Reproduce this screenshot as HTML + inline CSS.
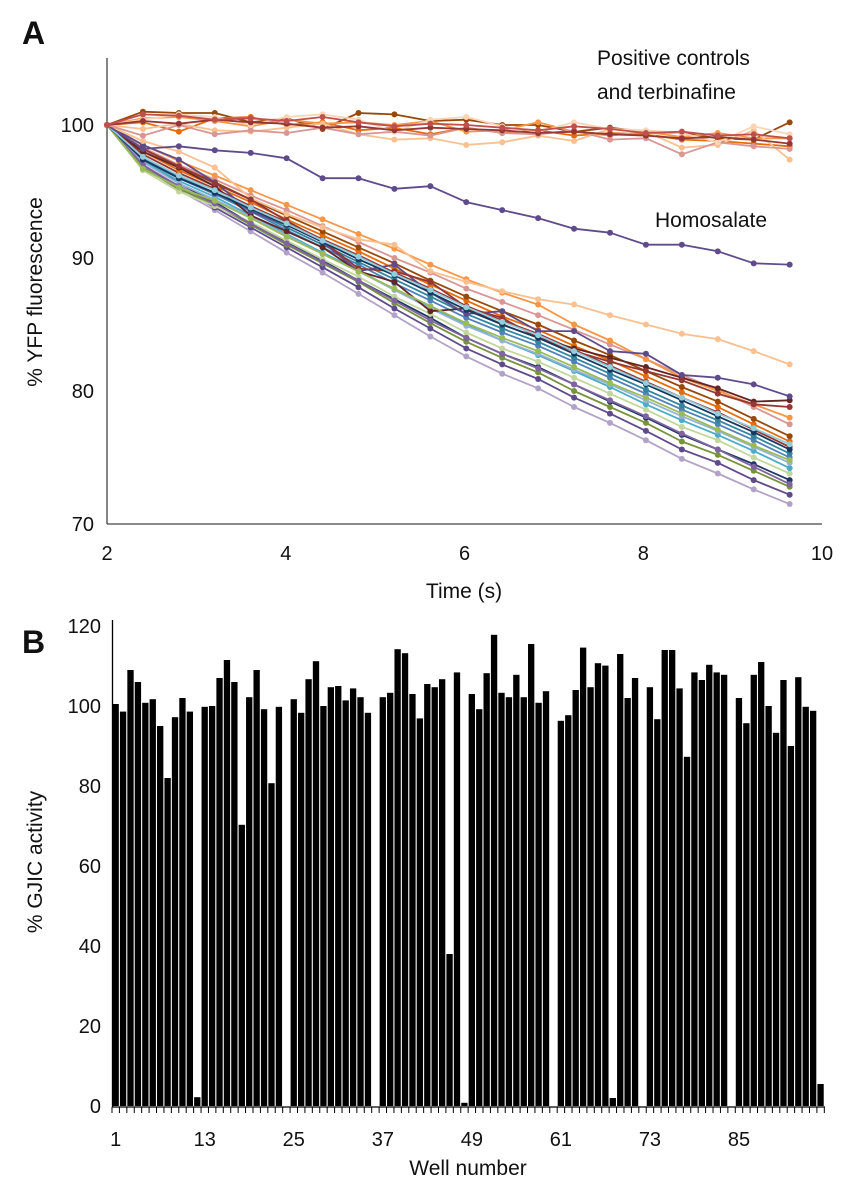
<!DOCTYPE html>
<html><head><meta charset="utf-8">
<style>
html,body{margin:0;padding:0;background:#fff;}
svg{display:block;font-family:"Liberation Sans",sans-serif;}
</style></head>
<body>
<svg id="fig" width="848" height="1200" viewBox="0 0 848 1200" xmlns="http://www.w3.org/2000/svg">
<text x="22" y="44" font-size="32" font-weight="bold" fill="#111">A</text>
<text x="22" y="653" font-size="32" font-weight="bold" fill="#111">B</text>
<g id="chartA"></g>
<g id="chartB"></g>
</svg>
<script>
// ---------- Panel A data ----------
const times = [2,2.402,2.804,3.206,3.608,4.01,4.412,4.814,5.216,5.618,6.02,6.422,6.824,7.226,7.628,8.03,8.432,8.834,9.236,9.638];
const aTicksX = [2,4,6,8,10];
const aTicksY = [70,80,90,100];
const flatColors = ["#984807","#e46c0a","#f79646","#fac090","#d99694","#fcd5b5","#953735","#c0504d"];
const flat1 = [100,101.0,100.9,100.9,100.2,100.5,99.7,100.9,100.8,100.3,100.4,100.0,100.0,99.5,99.8,99.5,99.4,99.0,98.9,100.2];
const flat2 = [100,100.2,99.5,100.5,100.6,100.0,100.2,99.6,99.8,99.3,99.8,99.4,99.6,99.2,99.4,99.3,98.9,98.8,98.6,98.4];
const flat3 = [100,100.5,100.6,100.3,99.9,100.4,100.1,100.2,100.0,100.3,99.5,99.6,100.2,99.5,99.2,99.5,99.1,99.4,99.0,99.0];
const flat4 = [100,99.7,100.1,99.6,99.5,99.8,100.1,99.3,98.9,99.0,98.5,98.7,99.2,98.8,99.7,99.5,98.3,98.5,99.6,97.4];
const flat5 = [100,99.2,100.0,99.3,99.6,99.4,99.8,99.3,99.5,99.2,99.8,99.4,99.3,99.6,98.9,99.0,97.8,98.7,98.4,98.2];
const flat6 = [100,100.4,100.8,100.6,100.0,100.6,100.8,100.4,99.5,100.4,100.6,99.9,99.5,100.2,99.7,99.6,99.4,98.7,99.9,99.3];
const flat7 = [100,100.3,100.1,100.4,100.2,100.1,99.8,99.9,99.6,99.8,99.7,99.6,99.4,99.5,99.3,99.2,99.0,99.1,98.9,98.6];
const flat8 = [100,100.8,100.7,100.4,100.5,100.3,100.6,100.2,99.9,100.1,100.0,99.8,99.6,99.9,99.7,99.4,99.5,99.2,99.3,99.0];
const homosalate = [100,98.2,98.4,98.1,97.9,97.5,96.0,96.0,95.2,95.4,94.2,93.6,93.0,92.2,91.9,91.0,91.0,90.5,89.6,89.5];
const decayColors = ["#b3a2c7","#5f4b8b","#77933c","#1f3864","#c3d69b","#4bacc6","#95b3d7","#4f81bd","#31859c","#953735","#e46c0a","#984807","#d99694","#f79646","#632523","#5f4b8b","#fac090","#953735","#8064a2","#9bbb59","#17375e","#92cddc"];
const dec1 = [100,96.9,95.1,93.6,92.0,90.4,88.9,87.3,85.7,84.1,82.6,81.3,80.2,78.8,77.6,76.3,74.9,73.8,72.6,71.5];
const dec2 = [100,97.0,95.3,93.8,92.3,90.8,89.3,87.8,86.2,84.7,83.2,82.0,80.9,79.5,78.3,77.0,75.6,74.6,73.3,72.2];
const dec3 = [100,96.8,95.2,94.0,92.5,91.0,89.6,88.2,86.6,85.1,83.7,82.5,81.4,80.0,78.8,77.6,76.2,75.2,74.0,72.8];
const dec4 = [100,97.4,95.6,94.2,92.6,91.2,89.8,88.3,86.9,85.5,84.0,82.8,81.8,80.5,79.2,78.0,76.7,75.6,74.5,73.3];
const dec5 = [100,96.6,95.0,93.9,92.7,91.3,89.9,88.6,87.1,85.8,84.4,83.2,82.2,81.0,79.8,78.6,77.3,76.3,75.0,73.8];
const dec6 = [100,97.3,95.8,94.6,93.2,91.8,90.4,89.1,87.6,86.3,85.0,83.8,82.7,81.5,80.3,79.0,77.8,76.7,75.5,74.2];
const dec7 = [100,97.2,95.6,94.4,93.1,91.7,90.3,89.0,87.6,86.2,84.9,83.8,82.8,81.6,80.5,79.3,78.1,77.0,75.8,74.6];
const dec8 = [100,97.5,96.0,94.8,93.5,92.1,90.8,89.5,88.1,86.8,85.5,84.4,83.4,82.2,81.0,79.8,78.6,77.5,76.3,75.0];
const dec9 = [100,97.6,96.1,94.9,93.6,92.3,91.0,89.7,88.4,87.1,85.8,84.7,83.7,82.5,81.3,80.1,78.9,77.8,76.6,75.3];
const dec10 = [100,97.8,96.4,95.2,93.9,92.7,91.4,90.2,88.9,87.7,86.4,85.3,84.3,83.1,81.9,80.7,79.5,78.4,77.1,75.8];
const dec11 = [100,98.0,96.6,95.4,94.2,92.9,91.7,90.5,89.2,88.0,86.8,85.6,84.6,83.4,82.3,81.1,79.9,78.8,77.5,76.2];
const dec12 = [100,98.2,96.9,95.7,94.4,93.2,92.0,90.8,89.6,88.3,87.1,86.0,85.0,83.8,82.7,81.5,80.3,79.2,77.9,76.6];
const dec13 = [100,98.3,97.0,95.9,94.7,93.6,92.4,91.2,90.0,88.9,87.7,86.7,85.7,84.6,83.5,82.4,81.2,80.1,78.8,77.5];
const dec14 = [100,98.5,97.3,96.2,95.1,94.0,92.9,91.8,90.7,89.5,88.4,87.4,86.5,85.0,83.8,82.4,81.0,80.0,79.0,78.0];
const dec15 = [100,98.0,96.8,95.4,93.2,92.0,90.8,89.0,88.2,86.0,86.2,85.0,84.0,83.2,82.5,81.8,81.0,80.2,79.2,79.3];
const dec16 = [100,98.5,97.4,95.7,93.5,92.5,91.2,89.0,89.5,87.4,85.8,86.0,84.5,84.5,83.0,82.8,81.2,81.0,80.5,79.6];
const dec17 = [100,98.8,98.0,96.8,94.5,93.3,92.3,91.4,91.0,89.0,88.2,87.5,86.9,86.5,85.7,85.0,84.3,83.9,83.0,82.0];
const dec18 = [100,98.2,96.9,95.6,94.4,92.8,91.3,89.2,89.0,88.2,86.3,85.5,84.0,83.0,82.2,81.5,80.8,79.8,79.0,78.8];
const dec19 = [100,97.0,95.4,94.1,92.6,91.1,89.7,88.3,86.8,85.3,84.0,82.8,81.7,80.5,79.3,78.1,76.8,75.6,74.3,73.0];
const dec20 = [100,96.7,95.3,94.3,93.0,91.6,90.3,89.0,87.7,86.4,85.1,84.0,83.0,81.8,80.6,79.5,78.3,77.1,75.9,74.8];
const dec21 = [100,97.4,96.0,94.9,93.7,92.5,91.2,89.9,88.7,87.4,86.1,85.0,84.0,82.8,81.6,80.5,79.3,78.1,76.9,75.6];
const dec22 = [100,97.6,96.2,95.1,93.8,92.6,91.3,90.1,88.8,87.6,86.3,85.2,84.2,83.0,81.8,80.6,79.5,78.3,77.2,76.0];

// ---------- Panel B data ----------
const wells = [];
for (let i = 1; i <= 96; i++) wells.push(i);
const gjic = [100.5,98.6,109,106,100.8,101.7,95,82,97.2,102,98.6,2.2,99.8,100,107,111.5,106,70.3,102.2,109,99.2,80.7,99.8,0,101.7,98.3,106.7,111.2,100,104.7,105,101.4,104.4,102.2,98.3,0,102.2,103.3,114.2,113.2,103,96.9,105.5,104.7,106.7,38,108.4,0.8,103,99.2,108.2,117.8,103.3,102.2,107.8,102.2,115.5,100.8,103.7,0,96.3,97.7,104,114.6,104.7,110.7,110.1,2,113,102,107,0,104.7,96.7,114,114,104.4,87.3,108.4,106.5,110.3,108.4,107.8,0,102,95.7,107.8,111,100,93.3,106.5,90,107.2,99.8,98.8,5.5];
const bTicksY = [0,20,40,60,80,100,120];
const bTickWells = [1,13,25,37,49,61,73,85];

const NS = "http://www.w3.org/2000/svg";
function mk(tag, attrs, parent) {
  const e = document.createElementNS(NS, tag);
  for (const k in attrs) e.setAttribute(k, attrs[k]);
  parent.appendChild(e);
  return e;
}

// ---------- Panel A ----------
const gA = document.getElementById('chartA');
const ax = t => 107 + (t - 2) * (822 - 107) / 8;
const ay = v => 125 + (100 - v) * (524 - 125) / 30;

const yAxA = mk('line', {x1:107, y1:58, x2:107, y2:524, stroke:'#444', 'stroke-width':1.3}, gA);


const xAxA = mk('line', {x1:107, y1:524, x2:822, y2:524, stroke:'#444', 'stroke-width':1.3}, gA);



aTicksY.forEach(v => {
  const t = mk('text', {x:94, y:ay(v) + 7, 'font-size':20, 'text-anchor':'end', fill:'#111'}, gA);
  t.textContent = v;
  
  
});
aTicksX.forEach(v => {
  const t = mk('text', {x:ax(v), y:560, 'font-size':20, 'text-anchor':'middle', fill:'#111'}, gA);
  t.textContent = v;
  
  
});
const xtA = mk('text', {x:464, y:598, 'font-size':21, 'text-anchor':'middle', fill:'#111'}, gA);
xtA.textContent = 'Time (s)';


const ytA = mk('text', {x:0, y:0, 'font-size':21, 'text-anchor':'middle', fill:'#111', transform:'translate(42,292) rotate(-90)'}, gA);
ytA.textContent = '% YFP fluorescence';



function drawSeries(vals, color, name) {
  const g = mk('g', {}, gA);
  
  
  const pts = vals.map((v, i) => ax(times[i]).toFixed(1) + ',' + ay(v).toFixed(1)).join(' ');
  mk('polyline', {points:pts, fill:'none', stroke:color, 'stroke-width':1.8, 'stroke-linejoin':'round'}, g);
  vals.forEach((v, i) => {
    mk('circle', {cx:ax(times[i]), cy:ay(v), r:3, fill:color}, g);
  });
}
const decays = [dec1,dec2,dec3,dec4,dec5,dec6,dec7,dec8,dec9,dec10,dec11,dec12,dec13,dec14,dec15,dec16,dec17,dec18,dec19,dec20,dec21,dec22];
decays.forEach((d, i) => drawSeries(d, decayColors[i], 'decay-series-' + (i + 1)));
drawSeries(homosalate, '#5f4b8b', 'homosalate-series');
[flat1,flat2,flat3,flat4,flat5,flat6,flat7,flat8].forEach((d, i) => drawSeries(d, flatColors[i], 'control-series-' + (i + 1)));

const l1 = mk('text', {x:597, y:65, 'font-size':21, fill:'#111'}, gA);
l1.textContent = 'Positive controls';


const l2 = mk('text', {x:597, y:99, 'font-size':21, fill:'#111'}, gA);
l2.textContent = 'and terbinafine';


const l3 = mk('text', {x:655, y:227, 'font-size':21, fill:'#111'}, gA);
l3.textContent = 'Homosalate';



// ---------- Panel B ----------
const gB = document.getElementById('chartB');
const step = 7.42;
const bx = w => 112 + (w - 1) * step;
const by = v => 1106 - v * 4;

gjic.forEach((v, i) => {
  const r = mk('rect', {x:bx(wells[i]) + 0.5, y:by(v), width:step - 1.1, height:Math.max(0, 1106 - by(v)), fill:'#000'}, gB);
  
  
});
const yAxB = mk('line', {x1:112.5, y1:620, x2:112.5, y2:1107, stroke:'#000', 'stroke-width':1.3}, gB);


const xAxB = mk('line', {x1:112, y1:1107, x2:825, y2:1107, stroke:'#000', 'stroke-width':1.3}, gB);


for (let w = 1; w <= 97; w++) {
  mk('line', {x1:bx(w), y1:1107, x2:bx(w), y2:1113, stroke:'#000', 'stroke-width':1}, gB);
}
bTicksY.forEach(v => {
  const t = mk('text', {x:101, y:by(v) + 7, 'font-size':20, 'text-anchor':'end', fill:'#111'}, gB);
  t.textContent = v;
  
  
});
bTickWells.forEach(w => {
  const t = mk('text', {x:bx(w) + step / 2, y:1146, 'font-size':20, 'text-anchor':'middle', fill:'#111'}, gB);
  t.textContent = w;
  
  
});
const xtB = mk('text', {x:468, y:1175, 'font-size':21, 'text-anchor':'middle', fill:'#111'}, gB);
xtB.textContent = 'Well number';


const ytB = mk('text', {x:0, y:0, 'font-size':21, 'text-anchor':'middle', fill:'#111', transform:'translate(42,862) rotate(-90)'}, gB);
ytB.textContent = '% GJIC activity';


</script>
</body></html>
